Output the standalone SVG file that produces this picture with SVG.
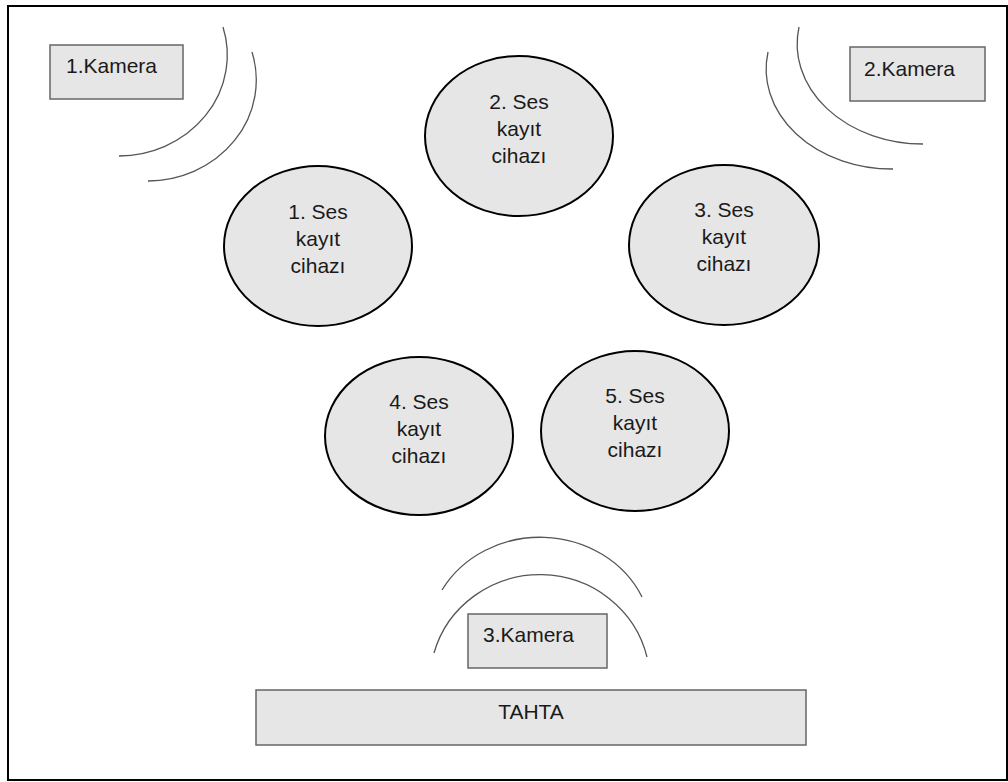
<svg xmlns="http://www.w3.org/2000/svg" width="1008" height="782" viewBox="0 0 1008 782">
<style>
.frame{fill:#ffffff;stroke:#000000;stroke-width:2}
.box{fill:#e6e6e6;stroke:#666666;stroke-width:1.5}
.ell{fill:#e6e6e6;stroke:#000000;stroke-width:2}
.arc{fill:none;stroke:#555555;stroke-width:1.3}
.t{font-family:"Liberation Sans",Arial,sans-serif;font-size:21px;fill:#1a1a1a}
.c{text-anchor:middle}
</style>
<rect class="frame" x="8" y="6" width="999" height="774"/>
<g id="connectors">
<path class="arc" d="M 223 27 A 109 101 0 0 1 119 156"/>
<path class="arc" d="M 252 52 A 109 101 0 0 1 148 181"/>
<path class="arc" d="M 799 27 A 126 100 0 0 0 923 144"/>
<path class="arc" d="M 768 52 A 126 100 0 0 0 893 169"/>
<path class="arc" d="M 442 590 A 112 102 0 0 1 642 597"/>
<path class="arc" d="M 434 653 A 110 107 0 0 1 647 657"/>
</g>
<g id="kamera1">
<rect class="box" x="50" y="45" width="133" height="54"/>
<text class="t" x="66" y="73">1.Kamera</text>
</g>
<g id="kamera2">
<rect class="box" x="850" y="47" width="135" height="54"/>
<text class="t" x="864" y="76">2.Kamera</text>
</g>
<g id="ses2">
<ellipse class="ell" cx="519" cy="136" rx="94" ry="80"/>
<text class="t c" x="519" y="109">2. Ses</text>
<text class="t c" x="519" y="136">kayıt</text>
<text class="t c" x="519" y="163">cihazı</text>
</g>
<g id="ses1">
<ellipse class="ell" cx="318" cy="246" rx="94" ry="80"/>
<text class="t c" x="318" y="219">1. Ses</text>
<text class="t c" x="318" y="246">kayıt</text>
<text class="t c" x="318" y="273">cihazı</text>
</g>
<g id="ses3">
<ellipse class="ell" cx="724" cy="245" rx="95" ry="80"/>
<text class="t c" x="724" y="217">3. Ses</text>
<text class="t c" x="724" y="244">kayıt</text>
<text class="t c" x="724" y="271">cihazı</text>
</g>
<g id="ses4">
<ellipse class="ell" cx="419" cy="436" rx="94" ry="79"/>
<text class="t c" x="419" y="409">4. Ses</text>
<text class="t c" x="419" y="436">kayıt</text>
<text class="t c" x="419" y="463">cihazı</text>
</g>
<g id="ses5">
<ellipse class="ell" cx="635" cy="431" rx="94" ry="80"/>
<text class="t c" x="635" y="403">5. Ses</text>
<text class="t c" x="635" y="430">kayıt</text>
<text class="t c" x="635" y="457">cihazı</text>
</g>
<g id="kamera3">
<rect class="box" x="468" y="614" width="139" height="54"/>
<text class="t" x="483" y="642">3.Kamera</text>
</g>
<g id="tahta">
<rect class="box" x="256" y="690" width="550" height="55"/>
<text class="t c" x="531" y="719">TAHTA</text>
</g>
</svg>
